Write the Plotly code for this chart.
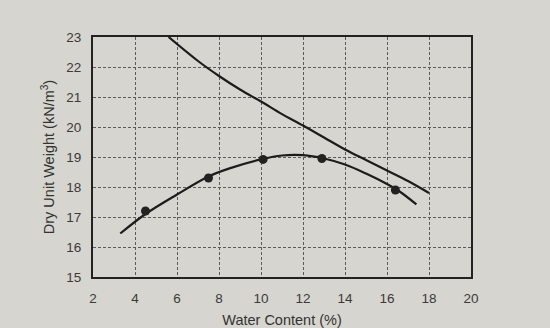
import plotly.graph_objects as go

# Compaction test results
water_content = [4.5, 7.5, 10.1, 12.9, 16.4]
dry_unit_weight = [17.2, 18.3, 18.92, 18.95, 17.9]

# Fitted compaction curve
curve_w = [3.3, 4.5, 6.0, 7.5, 8.5, 10.0, 11.0, 12.0, 13.0, 14.0, 15.0, 16.0, 16.6, 17.4]
curve_gd = [16.45, 17.1, 17.75, 18.35, 18.62, 18.92, 19.05, 19.06, 18.95, 18.75, 18.45, 18.1, 17.85, 17.42]

# Zero-air-voids line
zav_w = [5.6, 7.0, 8.0, 9.0, 10.0, 11.0, 12.0, 13.0, 14.0, 15.0, 16.0, 17.0, 18.0]
zav_gd = [23.0, 22.2, 21.7, 21.25, 20.85, 20.43, 20.05, 19.65, 19.25, 18.9, 18.55, 18.2, 17.8]

x_ticks = [2, 4, 6, 8, 10, 12, 14, 16, 18, 20]
y_ticks = [15, 16, 17, 18, 19, 20, 21, 22, 23]

paper = "#d7d5cf"
ink = "#1c1c1c"
grid = "#5a5a5a"

fig = go.Figure()
fig.add_trace(go.Scatter(x=zav_w, y=zav_gd, mode="lines",
                         line=dict(color=ink, width=2.2, shape="spline"),
                         hoverinfo="skip"))
fig.add_trace(go.Scatter(x=curve_w, y=curve_gd, mode="lines",
                         line=dict(color=ink, width=2.2, shape="spline"),
                         hoverinfo="skip"))
fig.add_trace(go.Scatter(x=water_content, y=dry_unit_weight, mode="markers",
                         marker=dict(color="#222", size=9)))

axis_common = dict(
    showgrid=True, gridcolor=grid, griddash="3px,2px", gridwidth=1,
    showline=True, linecolor="#222", linewidth=2, mirror=True,
    zeroline=False, ticks="outside", tickcolor="rgba(0,0,0,0)",
    tickfont=dict(size=13.5, color="#3a3a3a"), automargin=False,
)

fig.update_layout(
    width=550, height=328,
    margin=dict(l=93, r=79, t=37, b=51),
    paper_bgcolor=paper, plot_bgcolor=paper,
    showlegend=False,
    font=dict(family="Liberation Sans, Arial, sans-serif", color="#333", size=13),
)
fig.update_xaxes(range=[2, 20], tickvals=x_ticks, ticklen=8, **axis_common,
                 title=dict(text="Water Content (%)", font=dict(size=14.5, color="#333"),
                            standoff=11))
fig.update_yaxes(range=[15, 23], tickvals=y_ticks, ticklen=7, **axis_common,
                 title=dict(text="Dry Unit Weight (kN/m<sup>3</sup>)",
                            font=dict(size=14.5, color="#333"), standoff=8))

fig.write_html("out.html")
